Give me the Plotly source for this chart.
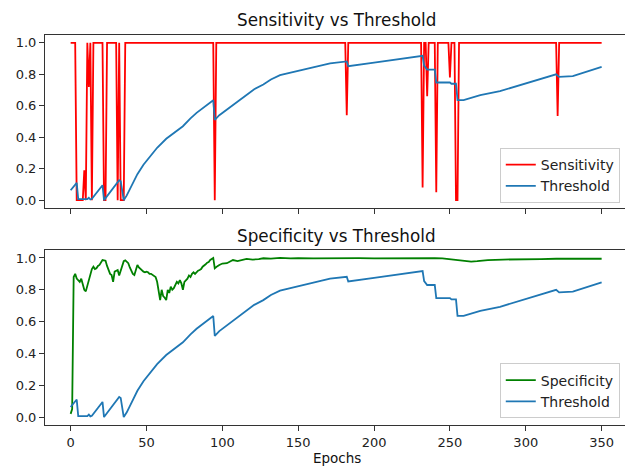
import plotly.graph_objects as go

# ---------------- data ----------------
sens_epochs = list(range(0, 37)) + [94, 95, 96, 181, 182, 183, 231, 232, 233, 234, 235, 236,
                                    240, 241, 242, 249, 250, 251, 253, 254, 255, 256,
                                    320, 321, 322, 350]
sens_values = [1, 1, 1, 1, 0, 0, 0, 0, 0, 0.19, 0, 1, 0.72, 1, 0, 1, 1, 1, 1, 1, 1, 1,
               0, 0, 1, 1, 1, 1, 1, 1, 1, 0, 1, 0, 0, 0, 1,
               1, 0, 1, 1, 0.54, 1, 1, 0.08, 1, 1, 0.66, 1,
               1, 0.05, 1, 1, 0.78, 1, 1, 0, 0, 1,
               1, 0.535, 1, 1]

thr_epochs = [0, 4, 5, 8, 11, 12, 13, 14, 21, 22, 32, 33, 35, 37, 41, 44, 48, 52, 57, 63,
              70, 74, 79, 83, 94, 95, 98, 105, 110, 116, 121, 127, 132, 138, 149, 160,
              171, 182, 183, 200, 217, 232, 233, 235, 240,
              241, 250, 251, 254, 255, 259, 270, 283, 294, 305, 320, 322, 331, 350]
thr_values = [0.063, 0.11, 0.006, 0.004, 0.006, 0.015, 0.004, 0.008, 0.095, 0.0, 0.126,
              0.12, 0.0, 0.03, 0.11, 0.165, 0.225, 0.275, 0.333, 0.39,
              0.44, 0.47, 0.52, 0.555, 0.635, 0.51, 0.54, 0.59, 0.63, 0.67, 0.705,
              0.735, 0.767, 0.795, 0.82, 0.845,
              0.87, 0.882, 0.852, 0.875, 0.897,
              0.918, 0.855, 0.83, 0.83, 0.748, 0.748, 0.74, 0.74, 0.636, 0.636, 0.668,
              0.693, 0.725, 0.756, 0.80, 0.784, 0.788, 0.847]

spec_epochs = list(range(0, 101)) + [103, 105, 107, 110, 112, 114, 116, 120, 124, 127, 132,
                                     138, 145, 150, 160, 168, 175, 190, 200, 210, 220, 230,
                                     240, 245, 252, 258, 264, 268, 275, 285, 300, 310, 320,
                                     335, 350]
spec_values = [0.02, 0.05, 0.88, 0.90, 0.87, 0.86, 0.85, 0.87, 0.84, 0.80,
               0.79, 0.83, 0.86, 0.90, 0.93, 0.945, 0.93, 0.935, 0.95, 0.956,
               0.97, 0.987, 0.985, 0.983, 0.95, 0.93, 0.90, 0.893, 0.85, 0.914,
               0.92, 0.924, 0.89, 0.92, 0.95, 0.98, 0.985, 0.975, 0.967, 0.94,
               0.914, 0.90, 0.893, 0.93, 0.956, 0.94, 0.93, 0.92, 0.914, 0.91,
               0.914, 0.91, 0.90, 0.90, 0.895, 0.89, 0.88, 0.85, 0.80, 0.735,
               0.80, 0.76, 0.75, 0.735, 0.80, 0.78, 0.82, 0.80, 0.81, 0.83,
               0.85, 0.84, 0.86, 0.84, 0.80, 0.85, 0.86, 0.87, 0.89, 0.88,
               0.90, 0.91, 0.90, 0.914, 0.92, 0.924, 0.93, 0.945, 0.95, 0.96,
               0.97, 0.975, 0.987, 0.995, 1.0, 0.935, 0.945, 0.95, 0.956, 0.96,
               0.965,
               0.967, 0.975, 0.987, 0.98, 0.983, 0.99, 0.994, 0.99, 0.993, 0.998, 0.996,
               1.0, 0.997, 0.999, 0.998, 0.999, 1.0, 0.999, 0.998,
               0.999, 1.0, 1.0, 0.999, 0.997, 0.99, 0.985, 0.977, 0.98, 0.987, 0.99, 0.99,
               0.993, 0.995, 0.994, 0.995]

x_ticks = [0, 50, 100, 150, 200, 250, 300, 350]
y_ticks = [0.0, 0.2, 0.4, 0.6, 0.8, 1.0]
y_tick_text = ["0.0", "0.2", "0.4", "0.6", "0.8", "1.0"]

RED = "#ff0000"
BLUE = "#1f77b4"
GREEN = "#008000"
FONT = "DejaVu Sans"
LW = 1.8

fig = go.Figure()
fig.add_trace(go.Scatter(x=sens_epochs, y=sens_values, mode="lines", name="Sensitivity",
                         line=dict(color=RED, width=LW), xaxis="x", yaxis="y", legend="legend"))
fig.add_trace(go.Scatter(x=thr_epochs, y=thr_values, mode="lines", name="Threshold",
                         line=dict(color=BLUE, width=LW), xaxis="x", yaxis="y", legend="legend"))
fig.add_trace(go.Scatter(x=spec_epochs, y=spec_values, mode="lines", name="Specificity",
                         line=dict(color=GREEN, width=LW), xaxis="x2", yaxis="y2", legend="legend2"))
fig.add_trace(go.Scatter(x=thr_epochs, y=thr_values, mode="lines", name="Threshold",
                         line=dict(color=BLUE, width=LW), xaxis="x2", yaxis="y2", legend="legend2"))

xr = [-16.9, 365.4]
yr = [-0.05, 1.05]
axis_common = dict(showgrid=False, zeroline=False, showline=True, linecolor="#333",
                   linewidth=1, ticks="outside", ticklen=5, tickcolor="#333",
                   tickfont=dict(family=FONT, size=13, color="#222"))

top_dom = [0.5564, 1.0]
bot_dom = [0.0, 0.4487]

fig.update_layout(
    width=625, height=466,
    margin=dict(l=45, r=0, t=35, b=41),
    plot_bgcolor="white", paper_bgcolor="white",
    xaxis=dict(domain=[0, 1], range=xr, anchor="y", tickvals=x_ticks, showticklabels=False,
               mirror=True, **axis_common),
    yaxis=dict(domain=top_dom, range=yr, anchor="x", tickvals=y_ticks, ticktext=y_tick_text,
               **axis_common),
    xaxis2=dict(domain=[0, 1], range=xr, anchor="y2", tickvals=x_ticks, mirror=True,
                **axis_common),
    yaxis2=dict(domain=bot_dom, range=yr, anchor="x2", tickvals=y_ticks, ticktext=y_tick_text,
                **axis_common),
    legend=dict(x=0.991, y=0.5690, xanchor="right", yanchor="bottom",
                bgcolor="rgba(255,255,255,0.85)", bordercolor="#cccccc", borderwidth=1,
                font=dict(family=FONT, size=14, color="#222")),
    legend2=dict(x=0.991, y=0.0167, xanchor="right", yanchor="bottom",
                 bgcolor="rgba(255,255,255,0.85)", bordercolor="#cccccc", borderwidth=1,
                 font=dict(family=FONT, size=14, color="#222")),
    annotations=[
        dict(text="Sensitivity vs Threshold", x=0.5026, y=(425 - 20) / 390, xref="paper",
             yref="paper", xanchor="center", yanchor="middle", showarrow=False,
             font=dict(family=FONT, size=16.8, color="#111")),
        dict(text="Specificity vs Threshold", x=0.5026, y=(425 - 236) / 390, xref="paper",
             yref="paper", xanchor="center", yanchor="middle", showarrow=False,
             font=dict(family=FONT, size=16.8, color="#111")),
        dict(text="Epochs", x=0.5026, y=(425 - 458) / 390, xref="paper",
             yref="paper", xanchor="center", yanchor="middle", showarrow=False,
             font=dict(family=FONT, size=13.5, color="#111")),
    ],
)

fig.write_html("out.html")
